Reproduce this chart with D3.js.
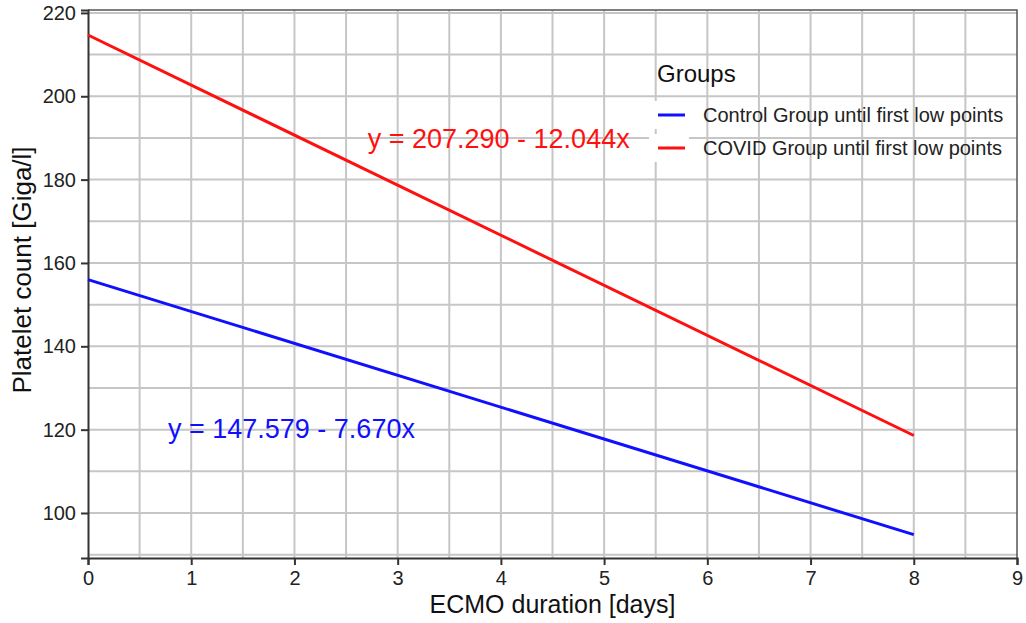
<!DOCTYPE html>
<html>
<head>
<meta charset="utf-8">
<script src="https://cdnjs.cloudflare.com/ajax/libs/d3/7.8.5/d3.min.js"></script>
<style>
  body { margin: 0; background: #fff; }
  svg text { font-family: "Liberation Sans", Arial, sans-serif; }
</style>
</head>
<body>
<script>
  // data
  var days = [0, 8];
  var controlGroup = [156.0, 94.8];
  var covidGroup = [214.7, 118.6];
  var seriesNames = ["Control Group until first low points", "COVID Group until first low points"];
  var seriesColors = ["#1010ff", "#ff1010"];
  var equations = ["y = 147.579 - 7.670x", "y = 207.290 - 12.044x"];
  var eqPos = [[0.775, 118.0], [2.71, 187.6]];   // [day, count] of equation label
  var xTicks = [0, 1, 2, 3, 4, 5, 6, 7, 8, 9];
  var yTicks = [100, 120, 140, 160, 180, 200, 220];

  var w = 1026, h = 623;
  var margin = {left: 88, right: 9, top: 10, bottom: 65};

  var svg = d3.select("body").append("svg")
    .attr("width", w)
    .attr("height", h);

  var x = d3.scaleLinear()
    .domain([0, 9])
    .range([margin.left, w - margin.right]);

  var y = d3.scaleLinear()
    .domain([89.2, 220.7])
    .range([h - margin.bottom, margin.top]);

  // grid: every half day, every 10 counts
  var grid = svg.append("g").attr("stroke", "#c6c6c6").attr("stroke-width", 2);
  grid.selectAll(".vg").data(d3.range(0.5, 9, 0.5))
    .enter().append("line")
    .attr("x1", function(d) { return x(d); })
    .attr("x2", function(d) { return x(d); })
    .attr("y1", y.range()[0])
    .attr("y2", y.range()[1]);
  grid.selectAll(".hg").data(d3.range(90, 221, 10))
    .enter().append("line")
    .attr("x1", x.range()[0])
    .attr("x2", x.range()[1])
    .attr("y1", function(d) { return y(d); })
    .attr("y2", function(d) { return y(d); });

  // top/right border
  svg.append("path")
    .attr("fill", "none")
    .attr("stroke", "#555")
    .attr("stroke-width", 1.5)
    .attr("d", "M" + x(0) + "," + y.range()[1] + "H" + x(9) + "V" + y.range()[0]);

  // axes
  var xAxis = d3.axisBottom(x).tickValues(xTicks).tickSize(7).tickPadding(6);
  svg.append("g")
    .attr("transform", "translate(0," + y.range()[0] + ")")
    .call(xAxis)
    .call(function(g) {
      g.select(".domain").attr("stroke", "#333").attr("stroke-width", 2);
      g.selectAll(".tick line").attr("stroke", "#333").attr("stroke-width", 2);
      g.selectAll(".tick text").attr("font-size", 20).attr("fill", "#222");
    });

  var yAxis = d3.axisLeft(y).tickValues(yTicks).tickSize(7).tickPadding(5);
  svg.append("g")
    .attr("transform", "translate(" + x.range()[0] + ",0)")
    .call(yAxis)
    .call(function(g) {
      g.select(".domain").attr("stroke", "#333").attr("stroke-width", 2);
      g.selectAll(".tick line").attr("stroke", "#333").attr("stroke-width", 2);
      g.selectAll(".tick text").attr("font-size", 20).attr("fill", "#222");
    });

  // axis titles
  svg.append("text")
    .attr("x", (x.range()[0] + x.range()[1]) / 2)
    .attr("y", 613)
    .attr("text-anchor", "middle")
    .attr("font-size", 25)
    .attr("fill", "#111")
    .text("ECMO duration [days]");

  svg.append("text")
    .attr("transform", "translate(31," + 270 + ") rotate(-90)")
    .attr("text-anchor", "middle")
    .attr("font-size", 26)
    .attr("fill", "#111")
    .text("Platelet count [Giga/l]");

  // regression lines
  var line = d3.line()
    .x(function(d) { return x(d[0]); })
    .y(function(d) { return y(d[1]); });

  [controlGroup, covidGroup].forEach(function(vals, i) {
    svg.append("path")
      .datum(days.map(function(d, j) { return [d, vals[j]]; }))
      .attr("fill", "none")
      .attr("stroke", seriesColors[i])
      .attr("stroke-width", 3)
      .attr("d", line);

    svg.append("text")
      .attr("x", x(eqPos[i][0]))
      .attr("y", y(eqPos[i][1]))
      .attr("font-size", 27)
      .attr("fill", seriesColors[i])
      .text(equations[i]);
  });

  // legend
  var legend = svg.append("g").attr("transform", "translate(657,0)");
  legend.append("text")
    .attr("x", 0)
    .attr("y", 82)
    .attr("font-size", 24)
    .attr("fill", "#111")
    .text("Groups");
  seriesNames.forEach(function(name, i) {
    var ly = 115 + i * 33;
    legend.append("rect")
      .attr("x", -8).attr("y", ly - 14)
      .attr("width", 40).attr("height", 28)
      .attr("fill", "#fff");
    legend.append("line")
      .attr("x1", 1).attr("x2", 28)
      .attr("y1", ly).attr("y2", ly)
      .attr("stroke", seriesColors[i])
      .attr("stroke-width", 3);
    legend.append("text")
      .attr("x", 46)
      .attr("y", ly + 7)
      .attr("font-size", 20)
      .attr("fill", "#222")
      .text(name);
  });
</script>
</body>
</html>
